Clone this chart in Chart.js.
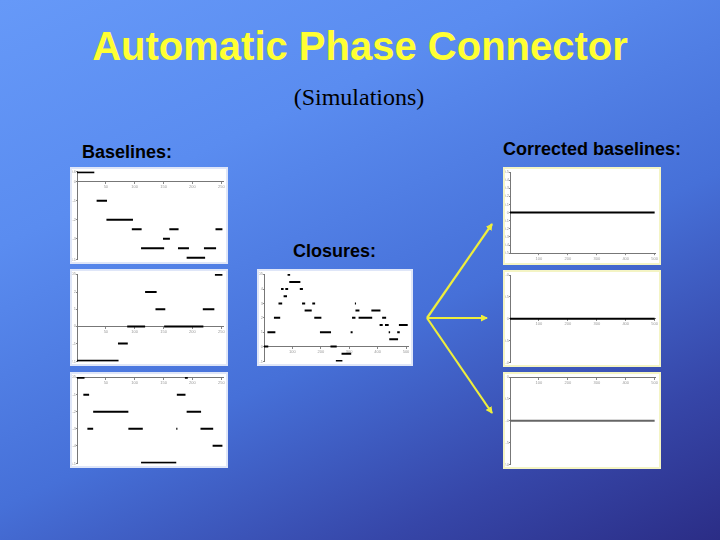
<!DOCTYPE html>
<html lang="en">
<head>
    <meta charset="UTF-8">
    <title>Automatic Phase Connector</title>
    <style>
        body {
            margin: 0;
            width: 720px;
            height: 540px;
            overflow: hidden;
            position: relative;
            font-family: "Liberation Sans", Arial, sans-serif;
            background: linear-gradient(155deg, #6699f8 0%, #5a8cf0 28%, #4670d8 58%, #3646a8 82%, #2b2d86 100%);
        }

        h1 {
            position: absolute;
            left: 0;
            width: 720px;
            top: 24px;
            margin: 0;
            text-align: center;
            font-size: 40px;
            font-weight: bold;
            color: #ffff33;
        }

        .sub {
            position: absolute;
            left: 0;
            width: 718px;
            top: 84px;
            text-align: center;
            font-family: "Liberation Serif", "Times New Roman", serif;
            font-size: 24px;
        }

        .label {
            position: absolute;
            font-size: 18px;
            font-weight: bold;
            color: #000;
        }

        .box {
            position: absolute;
            box-sizing: border-box;
            background: #fff;
            border: 2px solid #dfe6f8;
        }

        .box.corr {
            border-color: #f4f4c4;
        }

        .box canvas {
            display: block;
        }

        svg {
            position: absolute;
            left: 0;
            top: 0;
        }
    </style>
    <script src="https://cdn.jsdelivr.net/npm/chart.js"></script>
</head>
<body>
    <h1>Automatic Phase Connector</h1>
    <div class="sub">(Simulations)</div>
    <div class="label" style="left:82px; top:142px;">Baselines:</div>
    <div class="label" style="left:503px; top:139px;">Corrected baselines:</div>
    <div class="label" style="left:293px; top:241px;">Closures:</div>

    <div class="box" style="left:70px; top:167px; width:158px; height:97px;"><canvas id="b1" width="154" height="93"></canvas></div>
    <div class="box" style="left:70px; top:269px; width:158px; height:97px;"><canvas id="b2" width="154" height="93"></canvas></div>
    <div class="box" style="left:70px; top:372px; width:158px; height:96px;"><canvas id="b3" width="154" height="92"></canvas></div>
    <div class="box" style="left:257px; top:269px; width:156px; height:97px;"><canvas id="cl" width="152" height="93"></canvas></div>
    <div class="box corr" style="left:503px; top:167px; width:158px; height:98px;"><canvas id="c1" width="154" height="94"></canvas></div>
    <div class="box corr" style="left:503px; top:270px; width:158px; height:97px;"><canvas id="c2" width="154" height="93"></canvas></div>
    <div class="box corr" style="left:503px; top:372px; width:158px; height:97px;"><canvas id="c3" width="154" height="93"></canvas></div>

    <svg width="720" height="540">
        <defs>
            <marker id="head" markerWidth="7" markerHeight="7" refX="6" refY="3.5" orient="auto" markerUnits="userSpaceOnUse">
                <path d="M0,0 L7,3.5 L0,7 z" fill="#eeee3c"/>
            </marker>
        </defs>
        <g stroke="#eeee3c" stroke-width="2.2" fill="none" marker-end="url(#head)">
            <line x1="427" y1="318" x2="492" y2="224"/>
            <line x1="427" y1="318" x2="487" y2="318"/>
            <line x1="427" y1="318" x2="492" y2="413"/>
        </g>
    </svg>

<script>
    // phase segments: [start, end, value]
    var baseline1 = [
        [0, 30, 0.5], [34, 52, -1], [51, 97, -2], [95, 112, -2.5], [160, 176, -2.5],
        [240, 252, -2.5], [149, 161, -3], [111, 151, -3.5], [175, 194, -3.5],
        [220, 241, -3.5], [190, 222, -4]
    ];
    var baseline2 = [
        [0, 72, -2], [71, 88, -1], [87, 118, 0], [118, 138, 2], [136, 153, 1],
        [151, 219, 0], [218, 238, 1], [239, 252, 3]
    ];
    var baseline3 = [
        [0, 13, 0], [11, 21, -1], [18, 28, -3], [28, 89, -2], [89, 114, -3],
        [111, 172, -5], [172, 174, -3], [173, 188, -1], [187, 192, 0],
        [190, 215, -2], [214, 236, -3], [235, 252, -4]
    ];
    var closures = [
        [0, 15, 0], [12, 40, 1], [35, 57, 2], [51, 64, 3], [60, 69, 4], [69, 81, 3.5],
        [75, 85, 4], [83, 92, 5], [89, 128, 4.5], [126, 137, 4], [134, 145, 3],
        [143, 168, 2.5], [170, 180, 3], [177, 202, 2], [197, 236, 1], [234, 256, 0],
        [253, 276, -1], [273, 307, -0.5], [305, 312, 1], [310, 322, 2], [322, 336, 2.5],
        [320, 324, 3], [333, 381, 2], [378, 410, 2.5], [416, 430, 2], [407, 418, 1.5],
        [426, 439, 1.5], [439, 444, 1], [441, 472, 0.5], [469, 478, 1], [475, 506, 1.5]
    ];
    var corrected1 = [[0, 500, 0]];
    var corrected2 = [[0, 500, 0]];
    var corrected3 = [[0, 500, -1]];

    var baselineTicks = [50, 100, 150, 200, 250];
    var longTicks = [100, 200, 300, 400, 500];

    function makeChart(id, segs, opt) {
        var datasets = segs.map(function (s) {
            return {
                data: [{ x: s[0], y: s[2] }, { x: s[1], y: s[2] }],
                borderColor: opt.color || '#000',
                borderWidth: 2,
                pointRadius: 0,
                showLine: true
            };
        });
        var tickFont = { size: 4, family: 'Liberation Sans' };
        new Chart(document.getElementById(id), {
            type: 'scatter',
            data: { datasets: datasets },
            options: {
                responsive: false,
                animation: false,
                events: [],
                layout: { padding: { left: 0, top: opt.padTop, right: 3, bottom: 1 } },
                plugins: { legend: { display: false }, tooltip: { enabled: false } },
                scales: {
                    x: {
                        type: 'linear',
                        min: 0,
                        max: opt.xMax,
                        position: opt.xPos,
                        afterBuildTicks: function (s) {
                            s.ticks = opt.xTicks.map(function (v) { return { value: v }; });
                        },
                        grid: { drawOnChartArea: false, tickLength: 2, color: '#888' },
                        border: { color: '#777', width: 1 },
                        ticks: { font: tickFont, color: '#999', padding: 1, maxRotation: 0 }
                    },
                    y: {
                        min: opt.yMin,
                        max: opt.yMax,
                        afterFit: function (s) { s.width = 5; },
                        grid: { drawOnChartArea: false, tickLength: 1, color: '#888' },
                        border: { color: '#777', width: 1 },
                        ticks: { font: tickFont, color: '#999', padding: 0, stepSize: opt.yStep }
                    }
                }
            }
        });
    }

    makeChart('b1', baseline1, { xMax: 253, xTicks: baselineTicks, xPos: { y: 0 }, yMin: -4.1, yMax: 0.55, yStep: 1, padTop: 1 });
    makeChart('b2', baseline2, { xMax: 253, xTicks: baselineTicks, xPos: { y: 0 }, yMin: -2.05, yMax: 3.05, yStep: 1, padTop: 3 });
    makeChart('b3', baseline3, { xMax: 253, xTicks: baselineTicks, xPos: { y: 0 }, yMin: -5.05, yMax: 0.05, yStep: 1, padTop: 3 });
    makeChart('cl', closures, { xMax: 507, xTicks: longTicks, xPos: { y: 0 }, yMin: -1.05, yMax: 5.05, yStep: 1, padTop: 3 });
    makeChart('c1', corrected1, { xMax: 502, xTicks: longTicks, xPos: 'bottom', yMin: -0.5, yMax: 0.5, yStep: 0.1, padTop: 3 });
    makeChart('c2', corrected2, { xMax: 502, xTicks: longTicks, xPos: { y: 0 }, yMin: -1, yMax: 1, yStep: 0.5, padTop: 3 });
    makeChart('c3', corrected3, { xMax: 502, xTicks: longTicks, xPos: { y: 0 }, yMin: -2, yMax: 0, yStep: 0.5, padTop: 3, color: '#666' });
</script>
</body>
</html>
